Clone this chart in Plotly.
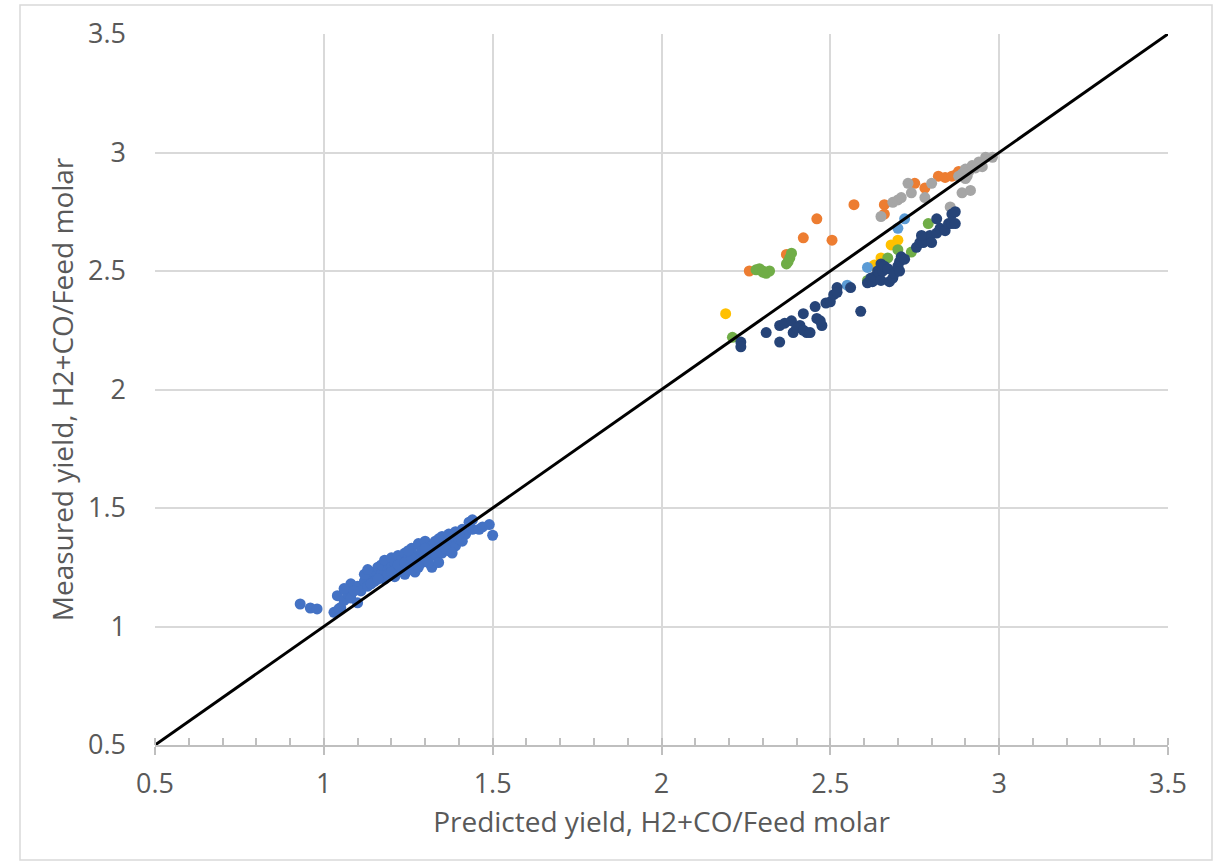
import plotly.graph_objects as go

# Series 1 (Excel blue)
s1_x = [0.93, 0.96, 0.98, 1.03, 1.05, 1.04, 1.06, 1.07, 1.08, 1.08, 1.10, 1.10, 1.11, 1.12, 1.13, 1.14,
        1.15, 1.15, 1.16, 1.17, 1.17, 1.18, 1.18, 1.19, 1.19, 1.20, 1.20, 1.21, 1.21, 1.22, 1.22, 1.23,
        1.23, 1.24, 1.24, 1.25, 1.25, 1.26, 1.26, 1.27, 1.27, 1.28, 1.28, 1.29, 1.29, 1.30, 1.30, 1.31,
        1.32, 1.32, 1.33, 1.33, 1.34, 1.34, 1.35, 1.35, 1.36, 1.37, 1.37, 1.38, 1.39, 1.39, 1.40, 1.41,
        1.41, 1.42, 1.43, 1.44, 1.44, 1.46, 1.47, 1.49, 1.50, 1.06, 1.09, 1.12, 1.14, 1.16, 1.20, 1.22,
        1.24, 1.26, 1.28, 1.30, 1.31, 1.36, 1.38, 1.045, 1.13, 1.25, 1.34, 1.40]
s1_y = [1.095, 1.078, 1.074, 1.06, 1.08, 1.13, 1.11, 1.14, 1.12, 1.18, 1.10, 1.17, 1.15, 1.19, 1.17, 1.21,
        1.23, 1.19, 1.25, 1.22, 1.26, 1.20, 1.28, 1.24, 1.22, 1.29, 1.25, 1.21, 1.27, 1.23, 1.30, 1.25,
        1.28, 1.31, 1.22, 1.26, 1.29, 1.24, 1.33, 1.28, 1.23, 1.30, 1.35, 1.27, 1.32, 1.29, 1.36, 1.31,
        1.25, 1.34, 1.30, 1.36, 1.27, 1.33, 1.31, 1.38, 1.35, 1.32, 1.39, 1.36, 1.34, 1.40, 1.37, 1.36,
        1.41, 1.39, 1.44, 1.45, 1.41, 1.41, 1.42, 1.43, 1.385, 1.16, 1.15, 1.22, 1.18, 1.20, 1.23, 1.26,
        1.27, 1.29, 1.25, 1.33, 1.27, 1.33, 1.31, 1.075, 1.24, 1.32, 1.37, 1.39]

# Series 2 (orange)
s2_x = [2.26, 2.37, 2.42, 2.46, 2.505, 2.57, 2.66, 2.66, 2.75, 2.78, 2.82, 2.84, 2.86, 2.88, 2.87]
s2_y = [2.50, 2.57, 2.64, 2.72, 2.63, 2.78, 2.78, 2.74, 2.87, 2.85, 2.90, 2.895, 2.90, 2.92, 2.905]

# Series 3 (gray)
s3_x = [2.65, 2.685, 2.70, 2.71, 2.73, 2.74, 2.78, 2.80, 2.855, 2.89, 2.915, 2.88, 2.89, 2.90, 2.905,
        2.91, 2.92, 2.93, 2.94, 2.95, 2.96, 2.98, 2.90]
s3_y = [2.73, 2.79, 2.80, 2.81, 2.87, 2.83, 2.81, 2.87, 2.77, 2.83, 2.84, 2.90, 2.91, 2.93, 2.90,
        2.92, 2.945, 2.935, 2.96, 2.94, 2.98, 2.98, 2.89]

# Series 4 (yellow)
s4_x = [2.19, 2.63, 2.65, 2.68, 2.70, 2.64]
s4_y = [2.32, 2.525, 2.555, 2.61, 2.63, 2.51]

# Series 5 (light blue)
s5_x = [2.55, 2.61, 2.70, 2.72]
s5_y = [2.44, 2.515, 2.68, 2.72]

# Series 6 (green)
s6_x = [2.21, 2.28, 2.29, 2.30, 2.31, 2.32, 2.30, 2.37, 2.375, 2.38, 2.385, 2.61, 2.67, 2.70, 2.74, 2.79]
s6_y = [2.22, 2.505, 2.51, 2.50, 2.49, 2.50, 2.495, 2.53, 2.54, 2.555, 2.575, 2.46, 2.555, 2.59, 2.58, 2.70]

# Series 7 (dark blue)
s7_x = [2.235, 2.235, 2.31, 2.35, 2.35, 2.365, 2.385, 2.39, 2.41, 2.40, 2.42, 2.43, 2.42, 2.44, 2.455,
        2.46, 2.475, 2.47, 2.487, 2.50, 2.51, 2.52, 2.52, 2.56, 2.59,
        2.61, 2.62, 2.625, 2.63, 2.64, 2.645, 2.65, 2.65, 2.655, 2.66, 2.67, 2.675, 2.685, 2.69, 2.70,
        2.705, 2.705, 2.71, 2.72, 2.755, 2.765, 2.775, 2.785, 2.795, 2.80, 2.77, 2.815, 2.825, 2.815,
        2.84, 2.85, 2.86, 2.87, 2.86, 2.87]
s7_y = [2.20, 2.18, 2.24, 2.20, 2.27, 2.28, 2.29, 2.24, 2.27, 2.26, 2.32, 2.24, 2.25, 2.24, 2.35,
        2.30, 2.27, 2.29, 2.365, 2.37, 2.40, 2.43, 2.41, 2.43, 2.33,
        2.45, 2.47, 2.455, 2.475, 2.50, 2.49, 2.53, 2.46, 2.50, 2.52, 2.51, 2.455, 2.47, 2.49, 2.52,
        2.50, 2.54, 2.56, 2.55, 2.60, 2.62, 2.62, 2.63, 2.65, 2.62, 2.65, 2.66, 2.68, 2.72,
        2.67, 2.70, 2.70, 2.70, 2.74, 2.75]

parity_x = [0.5, 3.5]
parity_y = [0.5, 3.5]

series = [
    (s1_x, s1_y, "#4472C4"),
    (s2_x, s2_y, "#ED7D31"),
    (s3_x, s3_y, "#A5A5A5"),
    (s4_x, s4_y, "#FFC000"),
    (s5_x, s5_y, "#5B9BD5"),
    (s6_x, s6_y, "#70AD47"),
    (s7_x, s7_y, "#264478"),
]

fig = go.Figure()
for xs, ys, col in series:
    fig.add_trace(go.Scatter(x=xs, y=ys, mode="markers",
                             marker=dict(size=11, color=col, line=dict(width=0)),
                             showlegend=False))
fig.add_trace(go.Scatter(x=parity_x, y=parity_y, mode="lines",
                         line=dict(color="black", width=3), showlegend=False))

font_col = "#595959"
fig.update_layout(
    width=1218, height=864,
    margin=dict(l=155, r=50, t=34, b=119),
    paper_bgcolor="white", plot_bgcolor="white",
    font=dict(family="Open Sans", size=26, color=font_col),
)
fig.update_xaxes(
    range=[0.5, 3.5], dtick=0.5, tick0=0.5,
    showgrid=True, gridcolor="#D9D9D9", gridwidth=1.5,
    showline=True, linecolor="#BFBFBF", linewidth=1.5,
    ticks="outside", ticklen=8, tickcolor="#BFBFBF", tickwidth=1.5,
    minor=dict(dtick=0.1, ticks="inside", ticklen=7, tickcolor="#BFBFBF", showgrid=False),
    zeroline=False, ticklabelstandoff=6, tickfont=dict(size=27),
    title=dict(text="Predicted yield, H2+CO/Feed molar", font=dict(size=28, color=font_col), standoff=12),
)
fig.update_yaxes(
    range=[0.5, 3.5], dtick=0.5, tick0=0.5,
    showgrid=True, gridcolor="#D9D9D9", gridwidth=1.5,
    showline=False, zeroline=False, ticks="", ticklabelstandoff=28, tickfont=dict(size=27),
    title=dict(text="Measured yield, H2+CO/Feed molar", font=dict(size=28, color=font_col), standoff=6),
)
fig.add_shape(type="rect", xref="paper", yref="paper",
              x0=(20 - 155) / 1013, x1=(1212 - 155) / 1013,
              y0=(745 - 860) / 711, y1=(745 - 5) / 711,
              line=dict(color="#D9D9D9", width=1.5), fillcolor="rgba(0,0,0,0)", layer="below")

fig.write_html("out.html")
